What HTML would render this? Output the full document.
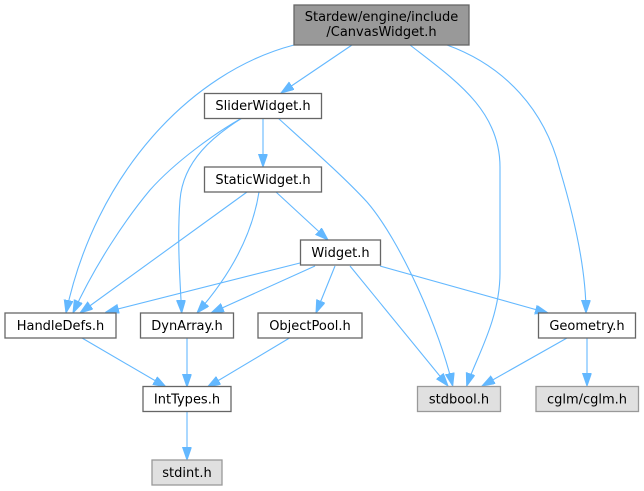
<!DOCTYPE html>
<html><head><meta charset="utf-8"><style>
html,body{margin:0;padding:0;background:#fff;}
svg{display:block;}
text{font-family:"DejaVu Sans","Liberation Sans",sans-serif;font-size:13px;fill:#000;}
</style></head><body>
<svg width="644" height="491" viewBox="0 0 644 491" xmlns="http://www.w3.org/2000/svg">
<defs>
<marker id="a" markerUnits="userSpaceOnUse" markerWidth="14" markerHeight="10" refX="13" refY="4.5" orient="auto">
<path d="M0,0 L13,4.5 L0,9 z" fill="#63b8ff" stroke="#63b8ff" stroke-width="1"/>
</marker>
</defs>
<g fill="none" stroke="#63b8ff" stroke-width="1.1" marker-end="url(#a)">
<path d="M352,45 L281,93"/>
<path d="M294,45 C190,72 95,175 66,313"/>
<path d="M242,118 C215,133 175,162 150,190 C125,220 95,265 73,313"/>
<path d="M242,118 C215,135 183,160 180,200 C177,240 180,280 181.7,313"/>
<path d="M263,118 L263,167"/>
<path d="M278,118 C310,147 345,178 367,202 C400,240 440,330 452.7,386"/>
<path d="M410,45 C455,80 500,110 500,167 L500,273 C500,320 475,360 466.7,386"/>
<path d="M447,45 C505,66 545,110 560,170 C575,220 586,270 586,313"/>
<path d="M247,192 L80,313"/>
<path d="M259,192 C253,230 235,270 197,313"/>
<path d="M276,192 L328,240"/>
<path d="M300,263 L106,312"/>
<path d="M315,266 L211,313"/>
<path d="M335,266 L316,313"/>
<path d="M350,266 L448,386"/>
<path d="M380,266 L548,313"/>
<path d="M567,338 L482,386"/>
<path d="M587,338 L587,386"/>
<path d="M82,338 L166,387"/>
<path d="M187,338 L187,387"/>
<path d="M289.5,338 L207.5,387"/>
<path d="M187,412 L187,460"/>
</g>
<g stroke-width="1.3">
<rect x="294" y="5" width="175" height="40" fill="#999999" stroke="#666666"/>
<rect x="204.5" y="93.5" width="117" height="25" fill="#ffffff" stroke="#666666"/>
<rect x="204.5" y="167" width="117" height="25" fill="#ffffff" stroke="#666666"/>
<rect x="300.5" y="240" width="80" height="25" fill="#ffffff" stroke="#666666"/>
<rect x="5" y="313" width="111" height="25" fill="#ffffff" stroke="#666666"/>
<rect x="140.5" y="313" width="93" height="25" fill="#ffffff" stroke="#666666"/>
<rect x="258" y="313" width="104" height="25" fill="#ffffff" stroke="#666666"/>
<rect x="538.5" y="313" width="97" height="25" fill="#ffffff" stroke="#666666"/>
<rect x="143" y="386.5" width="88" height="25" fill="#ffffff" stroke="#666666"/>
<rect x="417.5" y="386.5" width="83" height="25" fill="#e0e0e0" stroke="#999999"/>
<rect x="536" y="386.5" width="102.5" height="25" fill="#e0e0e0" stroke="#999999"/>
<rect x="152" y="460" width="70" height="25" fill="#e0e0e0" stroke="#999999"/>
</g>
<g text-anchor="middle">
<text x="381.5" y="21">Stardew/engine/include</text>
<text x="381.5" y="36">/CanvasWidget.h</text>
<text x="263" y="110">SliderWidget.h</text>
<text x="263" y="184">StaticWidget.h</text>
<text x="340.5" y="257">Widget.h</text>
<text x="60.5" y="330">HandleDefs.h</text>
<text x="187" y="330">DynArray.h</text>
<text x="310" y="330">ObjectPool.h</text>
<text x="587" y="330">Geometry.h</text>
<text x="187" y="403.5">IntTypes.h</text>
<text x="459" y="403.5">stdbool.h</text>
<text x="587" y="403.5">cglm/cglm.h</text>
<text x="187" y="477">stdint.h</text>
</g>
</svg>
</body></html>
